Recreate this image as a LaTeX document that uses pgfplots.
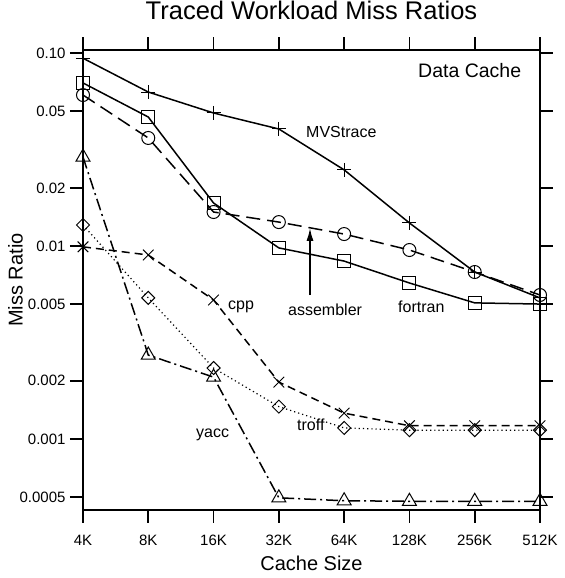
\documentclass[border=0pt]{standalone}
\usepackage{pgfplots}
\pgfplotsset{compat=1.18}
\usepackage{fontspec}
\setmainfont{Liberation Sans}
\usetikzlibrary{arrows.meta}

\begin{document}
\begin{tikzpicture}
\begin{axis}[
  scale only axis,
  width=457pt, height=460pt,
  xmin=0, xmax=7,
  ymode=log, ymin=0.000428, ymax=0.1037,
  xtick={0,1,2,3,4,5,6,7},
  xticklabels={4K,8K,16K,32K,64K,128K,256K,512K},
  ytick={0.0005,0.001,0.002,0.005,0.01,0.02,0.05,0.1},
  yticklabels={0.0005,0.001,0.002,0.005,0.01,0.02,0.05,0.10},
  yminorticks=false,
  xtick pos=both, ytick pos=both,
  xticklabel pos=lower, yticklabel pos=left,
  tick align=outside,
  major tick length=13pt,
  every tick/.style={black, line width=1.6pt},
  axis line style={line width=1.6pt},
  /pgf/number format/assume math mode=true,
  ticklabel style={font=\fontsize{15}{17}\selectfont},
  xticklabel style={yshift=-9pt},
  yticklabel style={xshift=-1pt},
  xlabel={Cache Size},
  ylabel={Miss Ratio},
  label style={font=\fontsize{20}{22}\selectfont},
  xlabel style={at={(axis description cs:0.5,0)}, anchor=base, yshift=-60pt},
  ylabel style={yshift=-10pt},
  title={Traced Workload Miss Ratios},
  title style={font=\fontsize{25.5}{28}\selectfont, at={(axis description cs:0.5,1)}, anchor=base, yshift=25pt},
  clip=false,
  every axis plot/.append style={line width=1.5pt, black},
  mark options={solid, line width=1pt, fill=none},
]

% MVStrace
\addplot[solid, mark=+, mark size=7pt] coordinates {
  (0,0.094) (1,0.0628) (2,0.0489) (3,0.0404) (4,0.0248) (5,0.01316) (6,0.00733) (7,0.00538)};
% fortran
\addplot[solid, mark=square, mark size=6.5pt] coordinates {
  (0,0.070) (1,0.0466) (2,0.0167) (3,0.00977) (4,0.00835) (5,0.00643) (6,0.00507) (7,0.00500)};
% assembler
\addplot[dash pattern=on 14pt off 7pt, mark=o, mark size=6.5pt] coordinates {
  (0,0.0606) (1,0.0363) (2,0.0150) (3,0.0133) (4,0.01153) (5,0.00953) (6,0.00733) (7,0.00557)};
% cpp
\addplot[dash pattern=on 8pt off 5pt, mark=x, mark size=7.5pt] coordinates {
  (0,0.0099) (1,0.00898) (2,0.00525) (3,0.00197) (4,0.00136) (5,0.00117) (6,0.00117) (7,0.00117)};
% troff
\addplot[line width=1.2pt, dash pattern=on 1.2pt off 3pt, mark=square, mark size=4.6pt,
         mark options={solid, line width=1pt, fill=none, rotate=45}] coordinates {
  (0,0.01285) (1,0.00538) (2,0.00233) (3,0.00147) (4,0.00114) (5,0.00111) (6,0.00111) (7,0.00111)};
% yacc
\addplot[dash pattern=on 12pt off 4pt on 2pt off 4pt, mark=triangle, mark size=8pt] coordinates {
  (0,0.0289) (1,0.00272) (2,0.00209) (3,0.000495) (4,0.000478) (5,0.000475) (6,0.000475) (7,0.000475)};

\begin{scope}[every node/.style={font=\fontsize{16}{18}\selectfont, inner sep=0pt, anchor=base west}]
  \node[font=\fontsize{19.5}{22}\selectfont] at (axis cs:5.131,0.0751) {Data Cache};
  \node at (axis cs:3.416,0.0367) {MVStrace};
  \node at (axis cs:2.221,0.00466) {cpp};
  \node at (axis cs:3.140,0.00434) {assembler};
  \node at (axis cs:4.825,0.00450) {fortran};
  \node at (axis cs:3.278,0.001104) {troff};
  \node at (axis cs:1.731,0.00102) {yacc};
\end{scope}
\draw[line width=1.6pt, -{Latex[length=13pt,width=7pt]}] (axis cs:3.477,0.00557) -- (axis cs:3.477,0.0124);

\coordinate (bl) at (rel axis cs:0,0);
\coordinate (tr) at (rel axis cs:1,1);
\end{axis}
\pgfresetboundingbox
\path ([shift={(-83pt,-68pt)}]bl) rectangle ([shift={(25pt,50pt)}]tr);
\end{tikzpicture}
\end{document}
